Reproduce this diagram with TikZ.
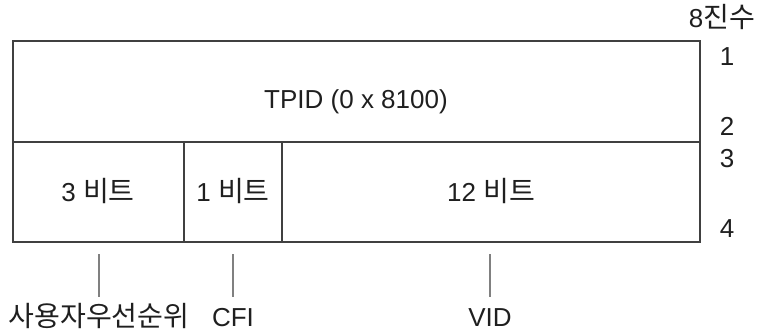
\documentclass[tikz,border=0pt]{standalone}
\usepackage{fontspec}
\setmainfont{Liberation Sans}
\newfontfamily\kr{Noto Sans CJK KR}[Scale=1.08]
\begin{document}
\begin{tikzpicture}[x=1pt,y=-1pt,
  txt/.style={inner sep=0pt, anchor=base, font=\fontsize{26}{30}\selectfont, text=black!88},
  frame/.style={draw=black!75, line width=1.3pt},
  tickline/.style={draw=black!50, line width=1.2pt}]
\useasboundingbox (0,0) rectangle (761,330);
% frame
\draw[frame] (13,41) rectangle (700,242);
\draw[frame] (13,142) -- (700,142);
\draw[frame] (184,142) -- (184,242);
\draw[frame] (282,142) -- (282,242);
% cell texts
\node[txt] (tpid) at (356,108) {TPID (0 x 8100)};
\node[txt] (pcpbits) at (98,201) {3 {\kr 비트}};
\node[txt] (cfibits) at (233,201) {1 {\kr 비트}};
\node[txt] (vidbits) at (491,201) {12 {\kr 비트}};
% right labels
\node[txt] (oct) at (722,27) {8{\kr 진수}};
\node[txt] (o1) at (727,65) {1};
\node[txt] (o2) at (727,135) {2};
\node[txt] (o3) at (727,167) {3};
\node[txt] (o4) at (727,237) {4};
% bottom labels
\node[txt] (pcp) at (99,326) {\kr 사용자우선순위};
\node[txt] (cfi) at (233,326) {CFI};
\node[txt] (vid) at (490,326) {VID};
% ticks
\coordinate (t1a) at (99,254); \coordinate (t1b) at (99,297);
\coordinate (t2a) at (233,254); \coordinate (t2b) at (233,297);
\coordinate (t3a) at (490,254); \coordinate (t3b) at (490,297);
\draw[tickline] (t1a) -- (t1b);
\draw[tickline] (t2a) -- (t2b);
\draw[tickline] (t3a) -- (t3b);
\end{tikzpicture}
\end{document}
